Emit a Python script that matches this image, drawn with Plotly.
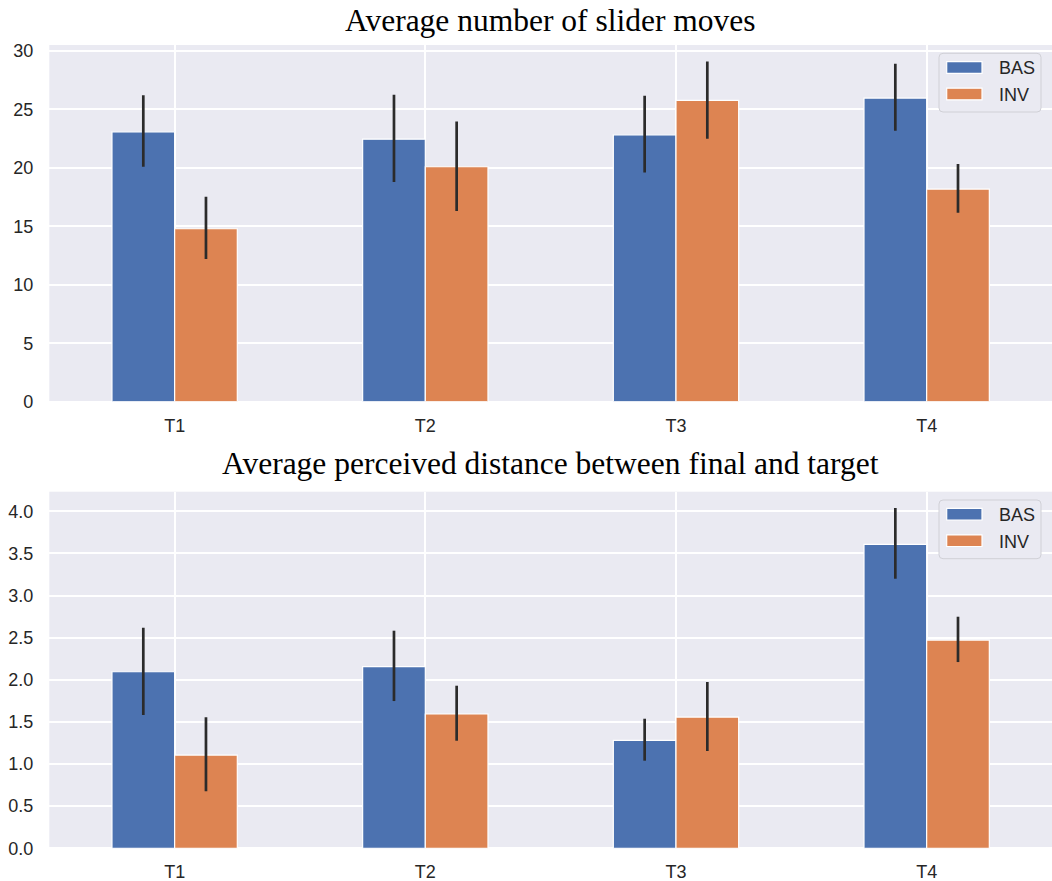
import plotly.graph_objects as go

# ---- data -------------------------------------------------------------
tasks = ["T1", "T2", "T3", "T4"]
groups = ["BAS", "INV"]

# average number of slider moves (mean, CI low, CI high)
moves_bas = [23.08, 22.45, 22.82, 25.96]
moves_bas_lo = [20.09, 18.78, 19.60, 23.16]
moves_bas_hi = [26.20, 26.24, 26.15, 28.89]
moves_inv = [14.79, 20.09, 25.76, 18.18]
moves_inv_lo = [12.20, 16.30, 22.48, 16.15]
moves_inv_hi = [17.52, 23.96, 29.09, 20.32]

# average perceived distance between final and target (mean, CI low, CI high)
dist_bas = [2.096, 2.156, 1.282, 3.608]
dist_bas_lo = [1.582, 1.748, 1.040, 3.200]
dist_bas_hi = [2.618, 2.583, 1.538, 4.040]
dist_inv = [1.107, 1.594, 1.558, 2.472]
dist_inv_lo = [0.677, 1.277, 1.155, 2.211]
dist_inv_hi = [1.555, 1.930, 1.974, 2.749]

titles = ["Average number of slider moves",
          "Average perceived distance between final and target"]

# ---- style ------------------------------------------------------------
W, H = 1052, 881
BG = "#EAEAF2"
COLORS = {"BAS": "#4C72B0", "INV": "#DD8452"}
ERR = "#2b2b2b"
TXT = "#262626"
SANS = "Liberation Sans, Arial, sans-serif"
SERIF = "Liberation Serif, Times New Roman, serif"


def fx(p):
    return p / W


def fy(p):
    return 1 - p / H


PLOT_LEFT = 49.3
panels = [
    dict(top=45.0, bottom=401.7, ymax=30.5, dtick=5, fmt="d", title_y=20.0),
    dict(top=491.7, bottom=848.3, ymax=4.233, dtick=0.5, fmt=".1f", title_y=463.3),
]

fig = go.Figure()


def add_bars(idx, means, lows, highs, name):
    xa = "x" if idx == 0 else "x2"
    ya = "y" if idx == 0 else "y2"
    fig.add_trace(go.Bar(
        x=tasks, y=means, name=name, xaxis=xa, yaxis=ya,
        marker=dict(color=COLORS[name], line=dict(color="white", width=1.2)),
        error_y=dict(type="data", symmetric=False,
                     array=[h - m for h, m in zip(highs, means)],
                     arrayminus=[m - l for m, l in zip(means, lows)],
                     color=ERR, thickness=2.7, width=0),
        showlegend=False,
    ))


add_bars(0, moves_bas, moves_bas_lo, moves_bas_hi, "BAS")
add_bars(0, moves_inv, moves_inv_lo, moves_inv_hi, "INV")
add_bars(1, dist_bas, dist_bas_lo, dist_bas_hi, "BAS")
add_bars(1, dist_inv, dist_inv_lo, dist_inv_hi, "INV")


def rounded_rect(x0, y0, x1, y1, r):
    # pixel box -> paper-coordinate path with rounded corners
    X = fx
    Y = fy
    return (f"M {X(x0 + r)},{Y(y0)} L {X(x1 - r)},{Y(y0)} "
            f"Q {X(x1)},{Y(y0)} {X(x1)},{Y(y0 + r)} "
            f"L {X(x1)},{Y(y1 - r)} Q {X(x1)},{Y(y1)} {X(x1 - r)},{Y(y1)} "
            f"L {X(x0 + r)},{Y(y1)} Q {X(x0)},{Y(y1)} {X(x0)},{Y(y1 - r)} "
            f"L {X(x0)},{Y(y0 + r)} Q {X(x0)},{Y(y0)} {X(x0 + r)},{Y(y0)} Z")


shapes = []
annotations = []
axis_font = dict(family=SANS, size=18, color=TXT)

layout = dict(
    width=W, height=H,
    margin=dict(l=0, r=0, t=0, b=0, pad=0, autoexpand=False),
    paper_bgcolor="white",
    plot_bgcolor=BG,
    barmode="group", bargap=0.5, bargroupgap=0,
    showlegend=False,
)

for i, p in enumerate(panels):
    sfx = "" if i == 0 else "2"
    layout["xaxis" + sfx] = dict(
        domain=[fx(PLOT_LEFT), 1.0], anchor="y" + sfx,
        type="category", range=[-0.5, 3.5], automargin=False,
        showgrid=True, gridcolor="white", gridwidth=1.8,
        showline=False, zeroline=False, ticks="",
        tickfont=axis_font, ticklabelstandoff=11,
    )
    layout["yaxis" + sfx] = dict(
        domain=[fy(p["bottom"]), fy(p["top"])], anchor="x" + sfx,
        range=[0, p["ymax"]], dtick=p["dtick"], tick0=0, automargin=False,
        tickformat=p["fmt"],
        showgrid=True, gridcolor="white", gridwidth=1.8,
        zeroline=True, zerolinecolor="white", zerolinewidth=1.8,
        showline=False, ticks="",
        tickfont=axis_font, ticklabelstandoff=15,
    )

    # panel title
    annotations.append(dict(
        text=titles[i], xref="paper", yref="paper",
        x=fx((PLOT_LEFT + W) / 2), y=fy(p["title_y"]),
        xanchor="center", yanchor="middle", showarrow=False,
        font=dict(family=SERIF, size=31.5, color="black"),
    ))

    # legend box in the upper-right corner of each panel
    t = p["top"]
    shapes.append(dict(
        type="path", xref="paper", yref="paper",
        path=rounded_rect(939, t + 8.3, 1041, t + 67, 4),
        fillcolor=BG, line=dict(color="#d0d0d6", width=1), layer="above",
    ))
    for k, (g, cy) in enumerate(zip(groups, [t + 22.5, t + 49.0])):
        shapes.append(dict(
            type="rect", xref="paper", yref="paper",
            x0=fx(946.7), x1=fx(982), y0=fy(cy + 5.8), y1=fy(cy - 5.8),
            fillcolor=COLORS[g], line=dict(color="white", width=1.2),
            layer="above",
        ))
        annotations.append(dict(
            text=g, xref="paper", yref="paper",
            x=fx(996.5), y=fy(cy + 0.8), xanchor="left", yanchor="middle",
            showarrow=False, font=dict(family=SANS, size=18, color=TXT),
        ))

layout["shapes"] = shapes
layout["annotations"] = annotations
fig.update_layout(**layout)

fig.write_html("out.html")
